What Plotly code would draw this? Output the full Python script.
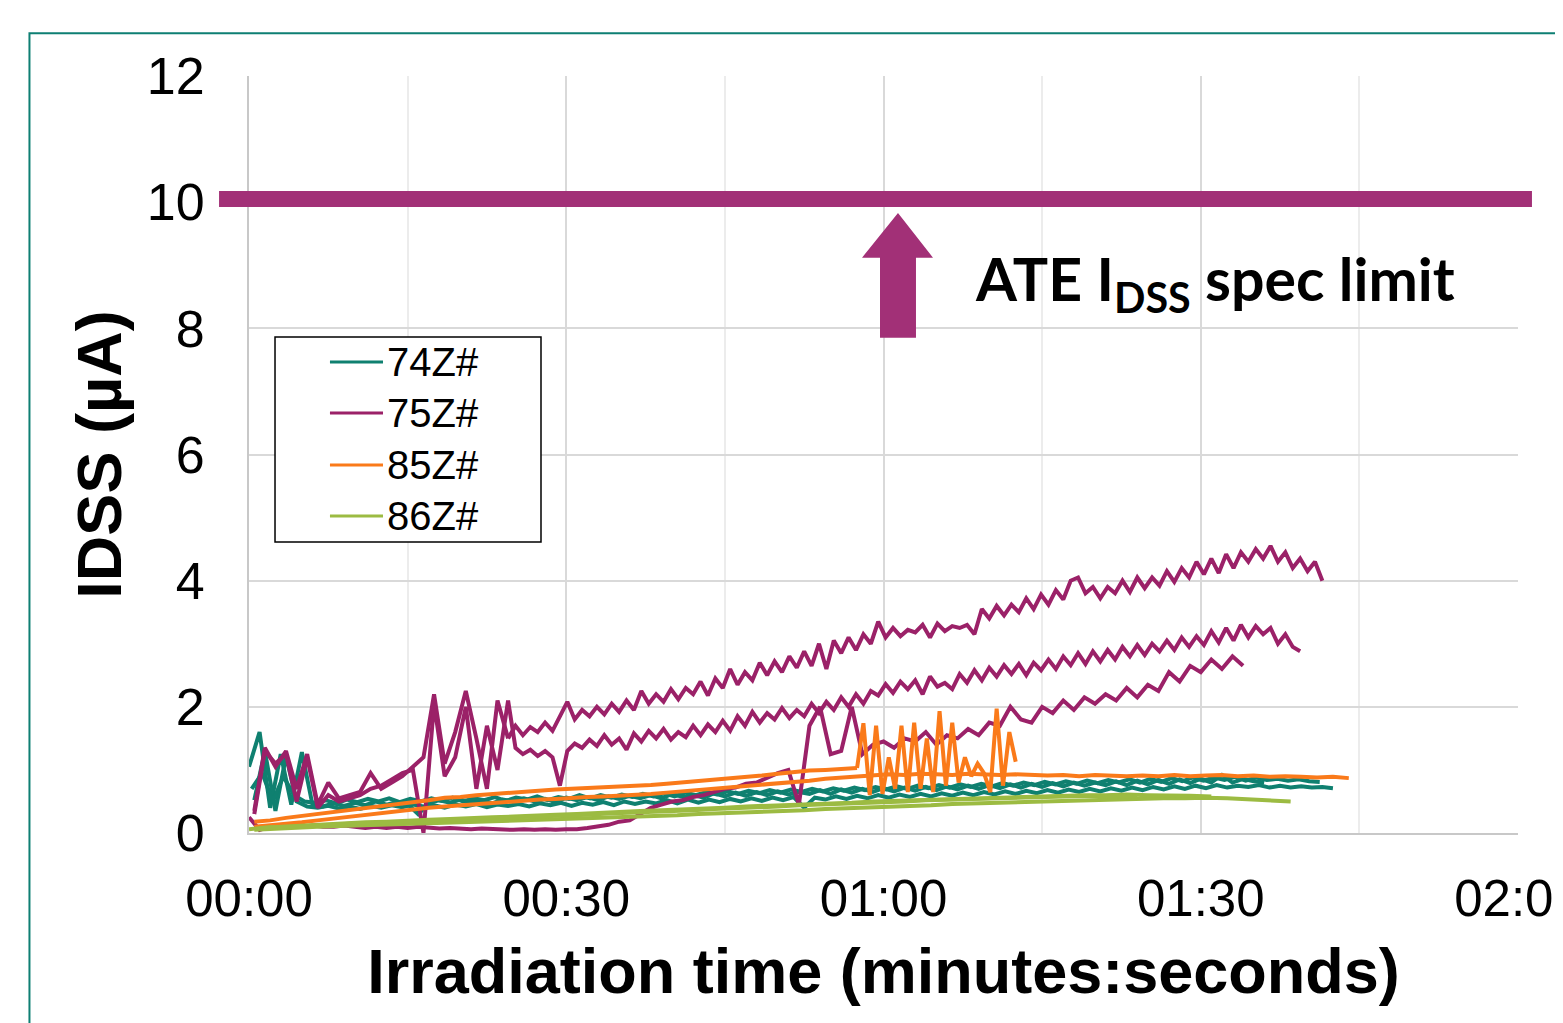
import plotly.graph_objects as go

# ---------------- data ----------------
SERIES = ["74Z#", "75Z#", "85Z#", "86Z#"]
COLORS = {"74Z#": "#0F8070", "75Z#": "#9B2168", "85Z#": "#FA7A1A", "86Z#": "#9CBB42"}
X_TICK_VALS = [0, 30, 60, 90, 120]
X_TICK_TEXT = ["00:00", "00:30", "01:00", "01:30", "02:00"]
Y_TICK_VALS = [0, 2, 4, 6, 8, 10, 12]
SPEC_LIMIT = 10  # µA

# 74Z# runs (IDSS in µA, one sample per second)
V74_1 = [1.05, 1.6, 0.4, 1.25, 0.45, 1.28,
         0.45, 0.42, 0.47, 0.43, 0.48, 0.44, 0.5, 0.45, 0.49, 0.46,
         0.3, 0.47, 0.52, 0.48, 0.53, 0.49, 0.52, 0.47, 0.53, 0.5,
         0.55, 0.5, 0.54, 0.49, 0.56, 0.52, 0.57, 0.52, 0.58, 0.54,
         0.59, 0.55, 0.6, 0.55, 0.62, 0.57, 0.6, 0.56, 0.63, 0.58,
         0.64, 0.59, 0.65, 0.6, 0.66, 0.61, 0.65, 0.62, 0.68, 0.62,
         0.69, 0.64, 0.7, 0.65, 0.71, 0.66, 0.72, 0.67, 0.73, 0.68,
         0.74, 0.69, 0.75, 0.7, 0.76, 0.71, 0.77, 0.72, 0.78, 0.73,
         0.79, 0.74, 0.8, 0.75, 0.8, 0.76, 0.82, 0.76, 0.83, 0.77,
         0.84, 0.78, 0.85, 0.79, 0.86, 0.8, 0.92, 0.8, 0.86, 0.82,
         0.8]
V74_2 = [0.52, 1.3, 0.35, 1.22, 0.5, 0.42,
         0.4, 0.43, 0.39, 0.42, 0.38, 0.43, 0.4, 0.44, 0.41, 0.45,
         0.42, 0.44, 0.4, 0.45, 0.42, 0.46, 0.41, 0.45, 0.43, 0.46,
         0.42, 0.47, 0.44, 0.48, 0.43, 0.48, 0.45, 0.49, 0.44, 0.5,
         0.46, 0.5, 0.47, 0.52, 0.47, 0.53, 0.48, 0.53, 0.49, 0.54,
         0.5, 0.55, 0.51, 0.56, 0.52, 0.57, 0.4, 0.56, 0.53, 0.58,
         0.54, 0.59, 0.55, 0.6, 0.56, 0.61, 0.57, 0.62, 0.58, 0.63,
         0.59, 0.64, 0.6, 0.65, 0.61, 0.66, 0.62, 0.67, 0.63, 0.68,
         0.64, 0.69, 0.65, 0.7, 0.66, 0.71, 0.67, 0.72, 0.68, 0.73,
         0.69, 0.74, 0.7, 0.75, 0.71, 0.76, 0.72, 0.75, 0.73, 0.76,
         0.72, 0.75, 0.72, 0.74, 0.72, 0.73, 0.71]
V74_3 = [0.7, 0.95, 0.5, 0.9, 0.6, 0.5,
         0.48, 0.52, 0.47, 0.53, 0.49, 0.54, 0.5, 0.55, 0.49, 0.54,
         0.5, 0.55, 0.51, 0.56, 0.5, 0.55, 0.52, 0.57, 0.51, 0.56,
         0.53, 0.58, 0.52, 0.57, 0.54, 0.6, 0.55, 0.6, 0.56, 0.61,
         0.57, 0.62, 0.58, 0.63, 0.58, 0.64, 0.6, 0.65, 0.61, 0.66,
         0.62, 0.67, 0.63, 0.68, 0.64, 0.69, 0.65, 0.7, 0.66, 0.71,
         0.67, 0.72, 0.68, 0.73, 0.69, 0.74, 0.7, 0.75, 0.71, 0.76,
         0.72, 0.77, 0.73, 0.78, 0.74, 0.79, 0.75, 0.8, 0.76, 0.81,
         0.77, 0.82, 0.78, 0.83, 0.79, 0.84, 0.8, 0.85, 0.8, 0.86,
         0.81, 0.87, 0.82, 0.88, 0.83, 0.88, 0.84, 0.89, 0.83, 0.88,
         0.84, 0.86, 0.83, 0.85, 0.82, 0.81]

# 75Z# runs: early part (1 s sampling) and later part (0.7 s sampling)
V75_1A = [0.35, 1.35, 1.05, 1.3, 0.7, 1.25, 0.45, 0.8, 0.55, 0.6,
          0.65, 0.95, 0.7, 0.8, 0.9, 1.05, 1.2, 2.2, 1.1, 1.6,
          2.25, 1.5, 0.7, 2.1, 1.5]
V75_1B = [1.5, 1.7, 1.55, 1.68, 1.6, 1.75, 1.62, 1.85, 2.08, 1.8,
          1.95, 1.85, 2.0, 1.88, 2.05, 1.92, 2.1, 1.95, 2.25, 2.05,
          2.2, 2.08, 2.28, 2.12, 2.3, 2.2, 2.4, 2.18, 2.45, 2.3,
          2.6, 2.35, 2.55, 2.42, 2.7, 2.5, 2.72, 2.55, 2.8, 2.62,
          2.88, 2.65, 3.0, 2.6, 3.05, 2.85, 3.1, 2.9, 3.15, 3.0,
          3.35, 3.1, 3.25, 3.12, 3.22, 3.18, 3.3, 3.1, 3.32, 3.2,
          3.28, 3.25, 3.3, 3.15, 3.55, 3.4, 3.6, 3.45, 3.62, 3.5,
          3.72, 3.55, 3.78, 3.62, 3.85, 3.7, 4.0, 4.05, 3.8, 3.9,
          3.72, 3.9, 3.8, 4.0, 3.82, 4.05, 3.88, 4.05, 3.92, 4.15,
          3.98, 4.2, 4.05, 4.3, 4.1, 4.35, 4.12, 4.42, 4.2, 4.45,
          4.3, 4.5, 4.35, 4.55, 4.3, 4.45, 4.2, 4.35, 4.15, 4.3,
          4.0]
V75_2A = [0.3, 1.3, 1.1, 1.25, 0.5, 1.2, 0.4, 0.6, 0.5, 0.55,
          0.6, 0.7, 0.75, 0.85, 0.95, 1.0, 0.0, 2.05, 0.9, 1.2,
          2.0, 0.7, 1.7, 1.0, 2.1]
V75_2B = [2.1, 1.35, 1.25, 1.32, 1.22, 1.3, 1.2, 0.75, 1.3, 1.42,
          1.35, 1.48, 1.38, 1.55, 1.4, 1.5, 1.32, 1.58, 1.45, 1.62,
          1.5, 1.65, 1.48, 1.6, 1.52, 1.7, 1.55, 1.72, 1.6, 1.78,
          1.62, 1.85, 1.7, 1.92, 1.75, 1.9, 1.8, 1.98, 1.82, 1.95,
          1.85, 2.05, 1.9, 2.08, 1.95, 2.15, 2.0, 2.2, 2.05, 2.25,
          2.18, 2.36, 2.22, 2.4, 2.28, 2.42, 2.2, 2.48, 2.32, 2.38,
          2.28, 2.52, 2.38, 2.58, 2.42, 2.62, 2.48, 2.66, 2.52, 2.68,
          2.5, 2.7, 2.58, 2.75, 2.6, 2.8, 2.66, 2.85, 2.68, 2.88,
          2.72, 2.9, 2.75, 2.95, 2.8, 2.98, 2.82, 3.0, 2.88, 3.05,
          2.9, 3.1, 2.95, 3.12, 2.98, 3.2, 3.02, 3.25, 3.05, 3.3,
          3.1, 3.28, 3.15, 3.25, 3.0, 3.15, 2.95, 2.88]
V75_3 = [0.25, 0.05, 0.1, 0.08, 0.12, 0.1, 0.12, 0.1, 0.1, 0.12,
         0.1, 0.08, 0.1, 0.08, 0.1, 0.08, 0.1, 0.08, 0.07, 0.08,
         0.07, 0.06, 0.07, 0.06, 0.06, 0.05, 0.06, 0.05, 0.06, 0.05,
         0.06, 0.06, 0.08, 0.1, 0.13, 0.18, 0.2, 0.3, 0.4, 0.45,
         0.5, 0.52, 0.57, 0.6, 0.65, 0.7, 0.72, 0.78, 0.8, 0.88,
         0.95, 1.0, 0.45, 1.7, 2.0, 1.25, 1.3, 2.0, 1.25, 1.4,
         1.45, 1.35, 1.5, 1.45, 1.6, 1.4, 1.55, 1.5, 1.65, 1.55,
         1.75, 1.7, 2.0, 1.8, 1.75, 2.0, 1.9, 2.1, 1.95, 2.15,
         2.05, 2.2, 2.1, 2.3, 2.15, 2.35, 2.25, 2.55, 2.4, 2.65,
         2.55, 2.75, 2.6, 2.8, 2.65]

# 85Z# runs (run 1 has a smooth part and an erratic part)
V85_1A = [0.18, 0.2, 0.24, 0.27, 0.3, 0.34, 0.36, 0.4, 0.43, 0.45,
          0.48, 0.52, 0.56, 0.57, 0.6, 0.62, 0.64, 0.65, 0.67, 0.69,
          0.7, 0.71, 0.72, 0.73, 0.74, 0.76, 0.78, 0.8, 0.82, 0.84,
          0.86, 0.88, 0.91, 0.94, 0.97, 0.99, 1.0, 1.02, 1.03]
V85_1B = [1.03, 1.74, 0.6, 1.7, 0.62, 1.2, 0.7, 1.7, 0.65, 1.75,
          0.7, 1.5, 0.65, 1.93, 0.75, 1.75, 0.8, 1.2, 0.9, 1.1,
          0.95, 0.65, 1.97, 0.75, 1.6, 1.13]
V85_2 = [0.1, 0.12, 0.15, 0.17, 0.2, 0.23, 0.26, 0.29, 0.31, 0.34,
         0.37, 0.4, 0.42, 0.44, 0.46, 0.48, 0.5, 0.51, 0.53, 0.54,
         0.56, 0.57, 0.58, 0.59, 0.6, 0.62, 0.64, 0.66, 0.68, 0.7,
         0.72, 0.74, 0.76, 0.78, 0.8, 0.83, 0.86, 0.88, 0.9, 0.92,
         0.93, 0.92, 0.94, 0.93, 0.92, 0.94, 0.93, 0.92, 0.93, 0.92,
         0.91, 0.92, 0.9, 0.92, 0.91, 0.9, 0.91, 0.9, 0.92, 0.9,
         0.91, 0.92, 0.9, 0.91, 0.89, 0.9, 0.89, 0.88, 0.89, 0.87]

# 86Z# runs
V86_1 = [0.05, 0.07, 0.08, 0.1, 0.11, 0.12, 0.13, 0.14, 0.15, 0.16,
         0.17, 0.18, 0.19, 0.2, 0.21, 0.22, 0.23, 0.25, 0.26, 0.27,
         0.28, 0.3, 0.31, 0.32, 0.34, 0.35, 0.36, 0.38, 0.39, 0.41,
         0.42, 0.43, 0.44, 0.46, 0.47, 0.48, 0.49, 0.5, 0.5, 0.51,
         0.52, 0.53, 0.54, 0.55, 0.55, 0.56, 0.55, 0.53, 0.52, 0.5]
V86_2 = [0.08, 0.1, 0.12, 0.14, 0.16, 0.17, 0.18, 0.2, 0.21, 0.22,
         0.24, 0.25, 0.26, 0.28, 0.29, 0.3, 0.32, 0.33, 0.35, 0.36,
         0.37, 0.39, 0.4, 0.42, 0.43, 0.44, 0.46, 0.47, 0.48, 0.5,
         0.51, 0.52, 0.53, 0.55, 0.56, 0.57, 0.57, 0.58, 0.59, 0.6,
         0.6, 0.61, 0.6, 0.6, 0.59, 0.58]
V86_3 = [0.06, 0.09, 0.1, 0.12, 0.13, 0.15, 0.16, 0.17, 0.19, 0.2,
         0.21, 0.23, 0.24, 0.25, 0.27, 0.28, 0.29, 0.31, 0.32, 0.34,
         0.35, 0.36, 0.38, 0.39, 0.41, 0.42, 0.44, 0.45, 0.46, 0.48,
         0.49, 0.5, 0.52, 0.53, 0.54, 0.55, 0.56, 0.57, 0.57, 0.58,
         0.59, 0.58, 0.57]

# (series, first sample time [s], sampling interval [s], values)
RUNS = [
    ("74Z#", 0.0, 1.0, V74_1),
    ("74Z#", 0.5, 1.0, V74_2),
    ("74Z#", 0.25, 1.0, V74_3),
    ("75Z#", 0.5, 1.0, V75_1A),
    ("75Z#", 24.5, 0.7, V75_1B),
    ("75Z#", 0.5, 1.0, V75_2A),
    ("75Z#", 24.5, 0.7, V75_2B),
    ("75Z#", 0.0, 1.0, V75_3),
    ("85Z#", 0.5, 1.5, V85_1A),
    ("85Z#", 57.5, 0.6, V85_1B),
    ("85Z#", 0.5, 1.5, V85_2),
    ("86Z#", 0.5, 2.0, V86_1),
    ("86Z#", 1.0, 2.0, V86_2),
    ("86Z#", 0.0, 2.0, V86_3),
]

FONT = "Arial, 'Liberation Sans', sans-serif"

fig = go.Figure()
for name, t0, dt, vals in RUNS:
    t = [t0 + dt * i for i in range(len(vals))]
    fig.add_trace(go.Scatter(
        x=t, y=vals, mode="lines", name=name, legendgroup=name,
        showlegend=False, line=dict(color=COLORS[name], width=4),
    ))

# spec-limit line
fig.add_shape(type="line", xref="paper", yref="y", x0=-0.0236, x1=1.011,
              y0=SPEC_LIMIT + 0.05, y1=SPEC_LIMIT + 0.05,
              line=dict(color="#A23077", width=16), layer="above")
# fat up arrow
fig.add_shape(type="path", xref="x", yref="y",
              path="M 59.67,7.85 L 59.67,9.12 L 57.97,9.12 L 61.37,9.83 "
                   "L 64.68,9.12 L 63.07,9.12 L 63.07,7.85 Z",
              fillcolor="#A23077", line=dict(width=0), layer="above")
fig.add_annotation(x=68.45, y=8.72, xref="x", yref="y", xanchor="left", yanchor="middle",
                   text="ATE I<sub>DSS</sub> spec limit", showarrow=False,
                   font=dict(family="Lato", size=59, color="black", weight="bold"))

# manual legend
LEG_X0, LEG_X1, LEG_Y0, LEG_Y1 = 0.0205, 0.2301, 0.3844, 0.6552
fig.add_shape(type="rect", xref="paper", yref="paper", x0=LEG_X0, x1=LEG_X1,
              y0=LEG_Y0, y1=LEG_Y1, line=dict(color="black", width=1.5),
              fillcolor="white", layer="above")
row_y = [0.6222, 0.5548, 0.4861, 0.4188]
for name, yy in zip(SERIES, row_y):
    fig.add_shape(type="line", xref="paper", yref="paper", x0=0.0638, x1=0.1056,
                  y0=yy, y1=yy, line=dict(color=COLORS[name], width=3), layer="above")
    fig.add_annotation(x=0.1075, y=yy, xref="paper", yref="paper", xanchor="left",
                       yanchor="middle", text=name, showarrow=False,
                       font=dict(family=FONT, size=40, color="black"))

# outer teal frame
fig.add_shape(type="rect", xref="paper", yref="paper", x0=-0.1730, x1=1.2,
              y0=-0.5, y1=1.0565, line=dict(color="#0E7F73", width=2),
              fillcolor="rgba(0,0,0,0)")

# page body has an 8px margin, so the figure is 8px smaller than the window
fig.update_layout(
    width=1555, height=1015,
    margin=dict(l=241, r=45, t=68, b=190, autoexpand=False),
    paper_bgcolor="white", plot_bgcolor="white",
    showlegend=False,
    font=dict(family=FONT, color="black"),
)
fig.update_xaxes(
    range=[0, 120], tickvals=X_TICK_VALS, ticktext=X_TICK_TEXT,
    tickfont=dict(family=FONT, size=51, color="black"),
    showgrid=True, gridcolor="#D9D9D9", gridwidth=2,
    minor=dict(dtick=15, showgrid=True, gridcolor="#ECECEC", gridwidth=2),
    showline=True, linecolor="#C8C8C8", linewidth=2, zeroline=False,
    ticks="", ticklabelstandoff=20, ticklabeloverflow="allow",
    title=dict(text="Irradiation time (minutes:seconds)", standoff=23,
               font=dict(family=FONT, size=63, color="black", weight="bold")),
)
fig.update_yaxes(
    range=[0, 12], tickvals=Y_TICK_VALS,
    tickfont=dict(family=FONT, size=52, color="black"),
    showgrid=True, gridcolor="#D9D9D9", gridwidth=2,
    showline=True, linecolor="#C8C8C8", linewidth=2, zeroline=False,
    ticks="", ticklabelstandoff=32,
    title=dict(text="IDSS (µA)", standoff=5,
               font=dict(family=FONT, size=63, color="black", weight="bold")),
)

fig.write_html("out.html")
